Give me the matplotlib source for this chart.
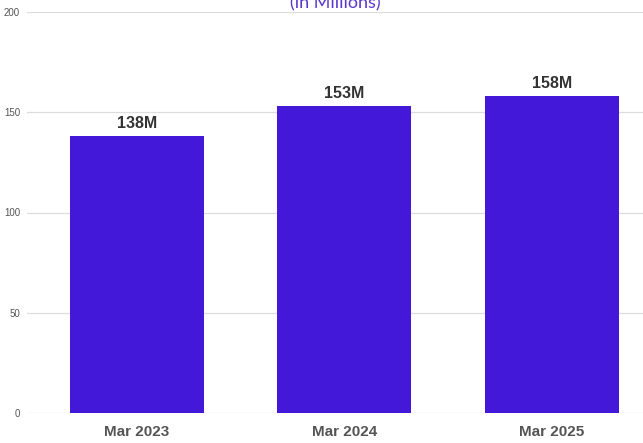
import matplotlib.pyplot as plt

categories = ["Mar 2023", "Mar 2024", "Mar 2025"]
values = [138, 153, 158]
value_labels = ["138M", "153M", "158M"]
y_ticks = [0, 50, 100, 150, 200]

BAR_COLOR = "#4318D8"

fig = plt.figure(figsize=(6.43, 4.43), dpi=100)
ax = fig.add_axes([27 / 643, 30 / 443, 1 - 27 / 643, 401 / 443])

x = list(range(len(categories)))
bars = ax.bar(x, values, width=0.646, color=BAR_COLOR, zorder=3)

for xi, v, lab in zip(x, values, value_labels):
    ax.annotate(lab, (xi, v), xytext=(0, 4), textcoords="offset points",
                ha="center", va="bottom", fontsize=11.5, fontweight="bold",
                color="#333333", family="Liberation Sans")

ax.set_ylim(0, 200)
ax.set_xlim(-0.53, 2.44)
ax.set_yticks(y_ticks)
ax.set_yticklabels([str(t) for t in y_ticks], fontsize=7, color="#555555",
                   family="Liberation Sans")
ax.set_xticks(x)
ax.set_xticklabels(categories, fontsize=11, fontweight="bold", color="#555555",
                   family="Liberation Sans")
ax.tick_params(axis="both", length=0)
ax.tick_params(axis="y", pad=5)
ax.tick_params(axis="x", pad=9)
ax.grid(axis="y", color="#dddddd", linewidth=0.9, zorder=0)
for s in ax.spines.values():
    s.set_visible(False)

# title sits partly above the top edge, as in the reference crop
fig.text(335 / 643, 1 - 8 / 443, "(in Millions)", ha="center", va="baseline",
         fontsize=13, color="#5A38D0", family="Lato")

fig.savefig("out.png", dpi=100)
